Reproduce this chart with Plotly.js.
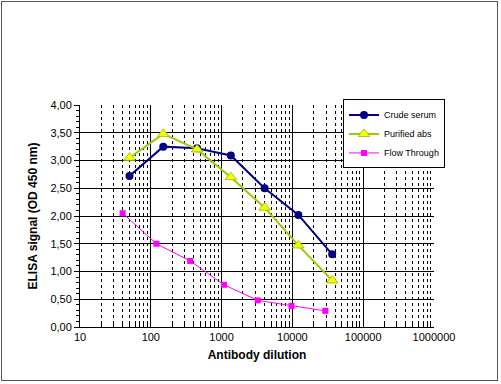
<!DOCTYPE html>
<html><head><meta charset="utf-8">
<script src="https://cdn.plot.ly/plotly-3.0.1.min.js"></script>
<style>html,body{margin:0;padding:0;background:#fff}#c{position:absolute;left:0;top:0;width:501px;height:384px}#f{position:absolute;left:1px;top:1px;width:495px;height:378px;border:1px solid #555;pointer-events:none}</style>
</head><body><div id="c"></div><div id="f"></div>
<script>
const crudeX = [50, 150, 450, 1350, 4050, 12150, 36450];
const crudeY = [2.72, 3.25, 3.22, 3.09, 2.50, 2.02, 1.31];
const purifiedX = [50, 150, 450, 1350, 4050, 12150, 36450];
const purifiedY = [3.05, 3.48, 3.20, 2.70, 2.15, 1.47, 0.84];
const flowX = [40, 120, 360, 1080, 3240, 9720, 29160];
const flowY = [2.05, 1.50, 1.19, 0.76, 0.48, 0.38, 0.29];
const xTickVals = [10, 100, 1000, 10000, 100000, 1000000];
const xTickText = ['10', '100', '1000', '10000', '100000', '1000000'];

const traces = [
  {x: crudeX, y: crudeY, name: 'Crude serum', mode: 'lines+markers',
   line: {color: '#000080', width: 2}, marker: {symbol: 'circle', size: 8, color: '#000080'}},
  {x: purifiedX, y: purifiedY, name: 'Purified abs', mode: 'lines+markers',
   line: {color: '#99cc00', width: 2}, marker: {symbol: 'triangle-up', size: 10, color: '#ffff00', line: {color: '#99cc00', width: 1}}},
  {x: flowX, y: flowY, name: 'Flow Through', mode: 'lines+markers',
   line: {color: '#ff00ff', width: 1}, marker: {symbol: 'square', size: 6, color: '#ff00ff'}}
];

const layout = {
  width: 501, height: 384,
  margin: {l: 80, r: 67, t: 105, b: 57},
  paper_bgcolor: '#fff', plot_bgcolor: '#fff',
  separators: ',.',
  font: {family: 'Liberation Sans, Arial, sans-serif', size: 11, color: '#000'},
  showlegend: true,
  legend: {x: 0.743, y: 1.025, xanchor: 'left', yanchor: 'top', bgcolor: '#fff',
           bordercolor: '#000', borderwidth: 1, font: {size: 9},
           tracegroupgap: 0, itemwidth: 30},
  xaxis: {type: 'log', range: [1, 6], tickvals: xTickVals, ticktext: xTickText,
          showgrid: true, gridcolor: '#000', gridwidth: 1,
          showline: true, linecolor: '#000', linewidth: 1,
          ticks: 'inside', ticklen: 5, tickcolor: '#000', zeroline: false,
          tickfont: {size: 11},
          minor: {dtick: 'D1', showgrid: true, gridcolor: '#000', griddash: 'dot', gridwidth: 1,
                  ticks: 'inside', ticklen: 3, tickcolor: '#000'},
          title: {text: '<b>Antibody dilution</b>', font: {size: 12}, standoff: 8}},
  yaxis: {range: [0, 4], dtick: 0.5, tickformat: '.2f',
          showgrid: true, gridcolor: '#000', gridwidth: 1,
          showline: true, linecolor: '#000', linewidth: 1,
          ticks: 'outside', ticklen: 5, tickcolor: '#000', zeroline: false,
          minor: {dtick: 0.1, ticks: 'outside', ticklen: 3, tickcolor: '#000', showgrid: false},
          title: {text: '<b>ELISA signal (OD 450 nm)</b>', font: {size: 12}, standoff: 10}}
};
Plotly.newPlot('c', traces, layout, {displayModeBar: false, staticPlot: true});
</script></body></html>
